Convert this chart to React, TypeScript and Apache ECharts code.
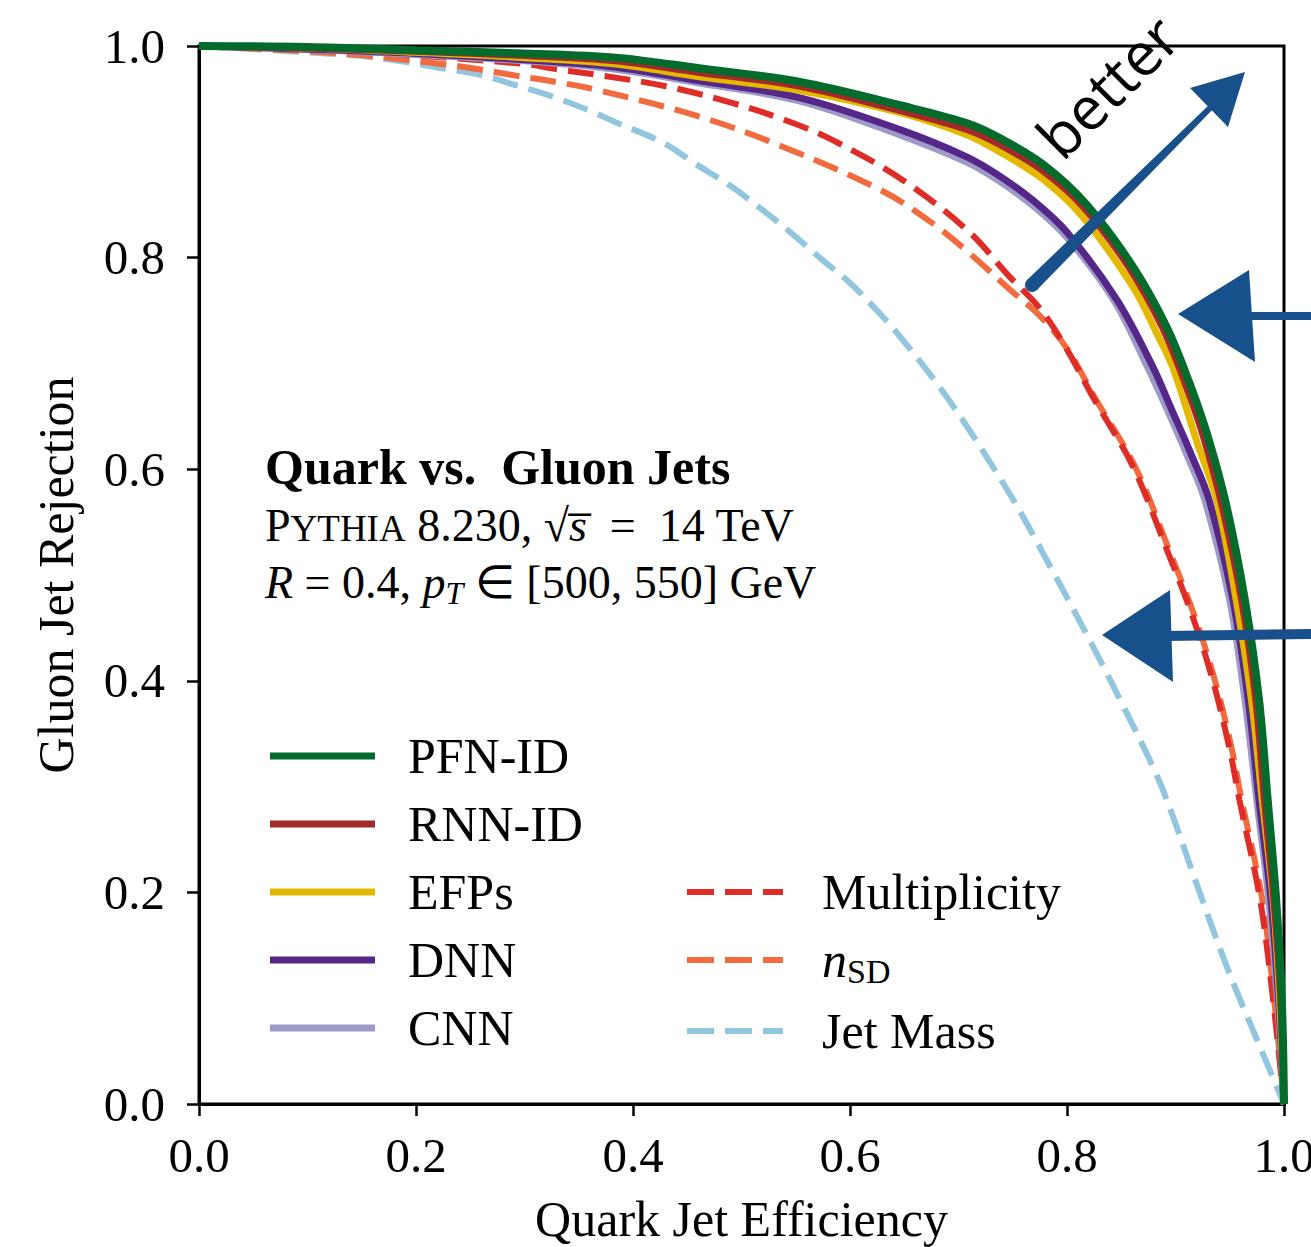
import React, { useEffect, useRef } from 'react';
import * as echarts from 'echarts';

// ---- data ----
const pfnEff = [0, 0.1, 0.2, 0.3, 0.384, 0.461, 0.554, 0.646, 0.708, 0.738, 0.778, 0.818, 0.861, 0.892, 0.913, 0.93, 0.947, 0.964, 0.977, 0.985, 0.993, 0.998, 1];
const pfnRej = [1, 0.999, 0.996, 0.993, 0.989, 0.979, 0.966, 0.944, 0.927, 0.913, 0.888, 0.85, 0.791, 0.734, 0.681, 0.63, 0.565, 0.476, 0.382, 0.287, 0.19, 0.098, 0];

const rnnEff = [0, 0.1, 0.2, 0.3, 0.384, 0.461, 0.554, 0.646, 0.708, 0.738, 0.778, 0.815, 0.857, 0.888, 0.909, 0.926, 0.943, 0.961, 0.974, 0.982, 0.991, 0.997, 1];
const rnnRej = [1, 0.998, 0.995, 0.991, 0.986, 0.975, 0.962, 0.939, 0.921, 0.907, 0.882, 0.848, 0.791, 0.734, 0.681, 0.63, 0.565, 0.476, 0.382, 0.287, 0.19, 0.098, 0];

const efpEff = [0, 0.1, 0.2, 0.3, 0.384, 0.461, 0.554, 0.646, 0.708, 0.738, 0.778, 0.815, 0.861, 0.882, 0.898, 0.92, 0.938, 0.956, 0.97, 0.98, 0.99, 0.996, 1];
const efpRej = [1, 0.998, 0.994, 0.989, 0.983, 0.971, 0.958, 0.937, 0.916, 0.9, 0.874, 0.838, 0.772, 0.73, 0.695, 0.625, 0.571, 0.476, 0.382, 0.287, 0.193, 0.098, 0];

const dnnEff = [0, 0.1, 0.2, 0.3, 0.384, 0.461, 0.554, 0.646, 0.708, 0.738, 0.77, 0.8, 0.846, 0.879, 0.897, 0.914, 0.931, 0.953, 0.967, 0.977, 0.988, 0.995, 1];
const dnnRej = [1, 0.997, 0.993, 0.987, 0.98, 0.967, 0.951, 0.921, 0.895, 0.877, 0.853, 0.824, 0.76, 0.697, 0.655, 0.615, 0.571, 0.476, 0.382, 0.287, 0.193, 0.098, 0];

const cnnEff = [0, 0.1, 0.2, 0.3, 0.384, 0.461, 0.554, 0.646, 0.708, 0.738, 0.77, 0.8, 0.843, 0.874, 0.893, 0.91, 0.927, 0.95, 0.964, 0.975, 0.986, 0.994, 1];
const cnnRej = [1, 0.997, 0.992, 0.986, 0.978, 0.965, 0.948, 0.916, 0.89, 0.872, 0.848, 0.819, 0.76, 0.697, 0.655, 0.615, 0.571, 0.476, 0.382, 0.287, 0.193, 0.098, 0];

const multEff = [0, 0.1, 0.2, 0.3, 0.33, 0.365, 0.43, 0.492, 0.54, 0.584, 0.646, 0.708, 0.747, 0.775, 0.8, 0.824, 0.861, 0.892, 0.916, 0.935, 0.95, 0.959, 0.978, 0.99, 1];
const multRej = [1, 0.998, 0.991, 0.983, 0.978, 0.973, 0.962, 0.946, 0.93, 0.911, 0.875, 0.826, 0.782, 0.752, 0.713, 0.668, 0.602, 0.524, 0.46, 0.398, 0.335, 0.287, 0.193, 0.098, 0];

const nsdEff = [0, 0.1, 0.154, 0.19, 0.224, 0.258, 0.292, 0.329, 0.369, 0.462, 0.535, 0.628, 0.674, 0.708, 0.747, 0.775, 0.8, 0.826, 0.863, 0.894, 0.918, 0.937, 0.952, 0.961, 0.98, 0.991, 1];
const nsdRej = [1, 0.995, 0.991, 0.987, 0.983, 0.978, 0.972, 0.966, 0.958, 0.933, 0.906, 0.864, 0.834, 0.806, 0.77, 0.745, 0.714, 0.667, 0.602, 0.524, 0.46, 0.398, 0.335, 0.287, 0.193, 0.098, 0];

const massEff = [0, 0.117, 0.154, 0.19, 0.224, 0.258, 0.292, 0.329, 0.362, 0.384, 0.427, 0.457, 0.488, 0.517, 0.545, 0.572, 0.6, 0.623, 0.644, 0.69, 0.747, 0.784, 0.817, 0.85, 0.883, 0.9, 0.916, 0.948, 0.982, 1];
const massRej = [1, 0.993, 0.99, 0.985, 0.979, 0.973, 0.963, 0.951, 0.938, 0.928, 0.909, 0.889, 0.869, 0.847, 0.824, 0.8, 0.776, 0.752, 0.728, 0.667, 0.577, 0.509, 0.446, 0.38, 0.31, 0.265, 0.218, 0.128, 0.044, 0];

const legendLeft = ['PFN-ID', 'RNN-ID', 'EFPs', 'DNN', 'CNN'];
const legendRight = ['Multiplicity', 'nSD', 'Jet Mass'];

const SERIF = 'Liberation Serif';
const SOLID_ICON = 'path://M0,0H105V7H0Z';
const DASH_ICON = 'path://M0,0H27V6H0Z M38,0H65V6H38Z M76,0H96V6H76Z';

function pairs(xs: number[], ys: number[]) {
  return xs.map((x, i) => [x, ys[i]]);
}

export default function App() {
  const ref = useRef<HTMLDivElement>(null);
  useEffect(() => {
    if (!ref.current) return;
    const chart = echarts.init(ref.current, undefined, { renderer: 'svg' });

    const mk = (name: string, xs: number[], ys: number[], color: string, width: number, dashed: boolean) => ({
      type: 'line',
      name,
      data: pairs(xs, ys),
      showSymbol: false,
      symbol: 'none',
      smooth: 0.35,
      lineStyle: { color, width, type: dashed ? [26, 11] : 'solid', cap: 'butt' },
      itemStyle: { color },
      emphasis: { disabled: true },
    });

    const legendText = (pad: number) => ({
      fontFamily: SERIF,
      fontSize: 50,
      color: '#000',
      lineHeight: 50,
      padding: [0, 0, 0, pad],
      rich: {
        it: { fontFamily: SERIF, fontSize: 50, fontStyle: 'italic', color: '#000' },
        sub: { fontFamily: SERIF, fontSize: 34, color: '#000', padding: [22, 0, 0, 0] },
      },
    });

    const richBase = {
      n: { fontFamily: SERIF, fontSize: 46, color: '#000', lineHeight: 56 },
      sc: { fontFamily: SERIF, fontSize: 37, color: '#000', padding: [7, 0, 0, 0] },
      it: { fontFamily: SERIF, fontSize: 46, fontStyle: 'italic', color: '#000', lineHeight: 56 },
      sub: { fontFamily: SERIF, fontSize: 32, fontStyle: 'italic', color: '#000', padding: [22, 0, 0, 0] },
      b: { fontFamily: SERIF, fontSize: 50, fontWeight: 'bold', color: '#000', lineHeight: 56 },
    };

    const blue = '#17508a';

    chart.setOption({
      animation: false,
      backgroundColor: '#fff',
      grid: {
        left: 199, right: 27, top: 46, bottom: 143, outerBoundsMode: 'none', containLabel: false,
        show: true, borderColor: '#000', borderWidth: 3, backgroundColor: 'transparent',
      },
      xAxis: {
        type: 'value', min: 0, max: 1, interval: 0.2,
        name: 'Quark Jet Efficiency', nameLocation: 'middle', nameGap: 90,
        nameTextStyle: { fontFamily: SERIF, fontSize: 50, color: '#000' },
        axisLine: { show: true, lineStyle: { color: '#000', width: 3 } },
        axisTick: { show: true, inside: false, length: 12, lineStyle: { color: '#000', width: 2.5 } },
        axisLabel: { margin: 27, fontFamily: SERIF, fontSize: 49, color: '#000', formatter: (v: number) => v.toFixed(1) },
        splitLine: { show: false },
      },
      yAxis: {
        type: 'value', min: 0, max: 1, interval: 0.2,
        name: 'Gluon Jet Rejection', nameLocation: 'middle', nameGap: 118, nameRotate: 90,
        nameTextStyle: { fontFamily: SERIF, fontSize: 50, color: '#000' },
        axisLine: { show: true, lineStyle: { color: '#000', width: 3 } },
        axisTick: { show: true, inside: false, length: 12, lineStyle: { color: '#000', width: 2.5 } },
        axisLabel: { margin: 34, fontFamily: SERIF, fontSize: 49, color: '#000', formatter: (v: number) => v.toFixed(1) },
        splitLine: { show: false },
      },
      legend: [
        {
          data: legendLeft.map((name) => ({ name, icon: SOLID_ICON })),
          orient: 'vertical', left: 265, top: 726,
          itemWidth: 105, itemHeight: 7, itemGap: 18,
          textStyle: legendText(28), selectedMode: false,
        },
        {
          data: legendRight.map((name) => ({ name, icon: DASH_ICON })),
          orient: 'vertical', left: 682, top: 862,
          itemWidth: 96, itemHeight: 6, itemGap: 18,
          textStyle: legendText(34), selectedMode: false,
          formatter: (name: string) => (name === 'nSD' ? '{it|n}{sub|SD}' : name),
        },
      ],
      series: [
        mk('Jet Mass', massEff, massRej, '#92c5de', 6, true),
        mk('nSD', nsdEff, nsdRej, '#f16b3f', 6, true),
        mk('Multiplicity', multEff, multRej, '#de2d26', 6, true),
        mk('CNN', cnnEff, cnnRej, '#9e9ac8', 7, false),
        mk('DNN', dnnEff, dnnRej, '#542788', 7, false),
        mk('EFPs', efpEff, efpRej, '#e5b800', 7, false),
        mk('RNN-ID', rnnEff, rnnRej, '#a3292a', 7, false),
        mk('PFN-ID', pfnEff, pfnRej, '#056b2d', 8, false),
      ],
      graphic: [
        { type: 'text', x: 265, y: 467, z: 50, style: { text: '{b|Quark vs.  Gluon Jets}', rich: richBase, verticalAlign: 'middle', align: 'left' } },
        { type: 'text', x: 265, y: 525, z: 50, style: { text: '{n|P}{sc|YTHIA}{n| 8.230, √}{it|s\u0305}{n|  =  14 TeV}', rich: richBase, verticalAlign: 'middle', align: 'left' } },
        { type: 'text', x: 265, y: 582, z: 50, style: { text: '{it|R}{n| = 0.4, }{it|p}{sub|T}{n| ∈ [500, 550] GeV}', rich: richBase, verticalAlign: 'middle', align: 'left' } },
        // "better" annotation
        { type: 'text', x: 1107, y: 86, rotation: Math.PI / 4, z: 60, style: { text: 'better', fontFamily: 'Open Sans', fontSize: 60, fill: '#000', align: 'center', verticalAlign: 'middle' } },
        { type: 'polygon', z: 60, shape: { points: [[1036.9, 290], [1027.1, 280], [1207.9, 105.9], [1212.1, 110.1]] }, style: { fill: blue } },
        { type: 'circle', z: 60, shape: { cx: 1032, cy: 285, r: 7 }, style: { fill: blue } },
        { type: 'polygon', z: 60, shape: { points: [[1190, 88], [1245, 72], [1228, 127]] }, style: { fill: blue } },
        // left-pointing arrows
        { type: 'polygon', z: 60, shape: { points: [[1178, 314], [1249, 270], [1255, 362]] }, style: { fill: blue } },
        { type: 'line', z: 60, shape: { x1: 1245, y1: 316, x2: 1315, y2: 316 }, style: { stroke: blue, lineWidth: 8 } },
        { type: 'polygon', z: 60, shape: { points: [[1102, 635], [1170, 590], [1173, 682]] }, style: { fill: blue } },
        { type: 'line', z: 60, shape: { x1: 1165, y1: 636, x2: 1315, y2: 634 }, style: { stroke: blue, lineWidth: 10 } },
      ],
    });
    return () => chart.dispose();
  }, []);
  return <div ref={ref} style={{ position: 'absolute', left: 0, top: 0, width: 1311, height: 1247 }} />;
}
